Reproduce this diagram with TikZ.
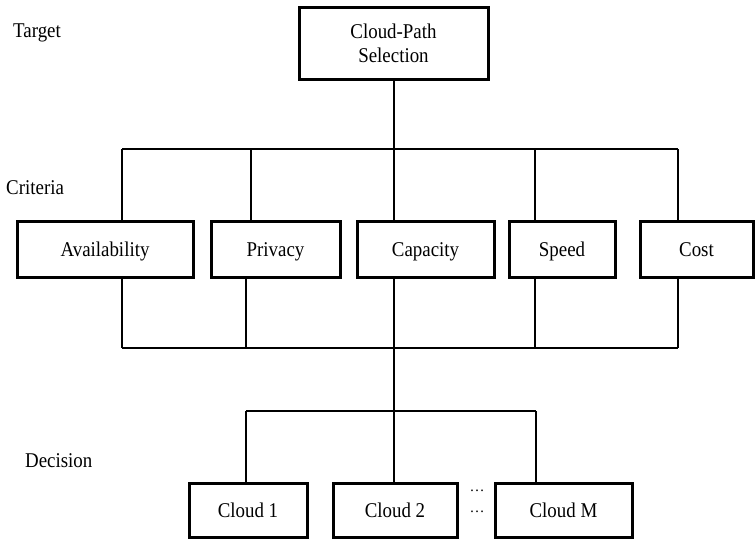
\documentclass[tikz,border=0pt]{standalone}
\usepackage{fontspec}
\usepackage{graphicx}
\setmainfont{Liberation Serif}
\newcommand{\nrw}[1]{\scalebox{0.9}[1]{#1}}
\begin{document}
\begin{tikzpicture}[x=1pt,y=-1pt,
  box/.style={draw=black, line width=3pt, rectangle, align=center, inner sep=0pt,
    font=\fontsize{21}{24}\selectfont},
  sbox/.style={box, text height=14pt, text depth=0pt},
  conn/.style={draw=black, line width=1.2pt},
  lab/.style={anchor=west, inner sep=0pt, font=\fontsize{21}{24}\selectfont},
  dots/.style={inner sep=0pt, font=\fontsize{15}{18}\selectfont}]
\useasboundingbox (0,0) rectangle (755,541);
% nodes
\node[box, minimum width=189pt, minimum height=72pt] (top) at (393.5,43) {\nrw{Cloud-Path}\\\nrw{Selection}};
\node[sbox, minimum width=176pt, minimum height=56pt] (avail) at (105,249) {\nrw{Availability}};
\node[sbox, minimum width=129pt, minimum height=56pt] (priv) at (275.5,249) {\nrw{Privacy}};
\node[sbox, minimum width=137pt, minimum height=56pt] (capa) at (425.5,249) {\nrw{Capacity}};
\node[sbox, minimum width=106pt, minimum height=56pt] (speed) at (562,249) {\nrw{Speed}};
\node[sbox, minimum width=113pt, minimum height=56pt] (cost) at (696.5,249) {\nrw{Cost}};
\node[sbox, minimum width=118pt, minimum height=54pt] (c1) at (248,510) {\nrw{Cloud 1}};
\node[sbox, minimum width=124pt, minimum height=54pt] (c2) at (395,510) {\nrw{Cloud 2}};
\node[sbox, minimum width=137pt, minimum height=54pt] (cM) at (563.5,510) {\nrw{Cloud M}};
\node[dots] (d1) at (477,491) {…};
\node[dots] (d2) at (477,512) {…};
% labels
\node[lab] (lt) at (13,33) {\nrw{Target}};
\node[lab] (lc) at (6,188) {\nrw{Criteria}};
\node[lab] (ld) at (25,461) {\nrw{Decision}};
% coordinates
\coordinate (t1) at (122,149);
\coordinate (t2) at (251,149);
\coordinate (t3) at (394,149);
\coordinate (t4) at (535,149);
\coordinate (t5) at (678,149);
\coordinate (b1) at (122,348);
\coordinate (b2) at (246,348);
\coordinate (b3) at (394,348);
\coordinate (b4) at (535,348);
\coordinate (b5) at (678,348);
\coordinate (h1) at (246,411);
\coordinate (h2) at (394,411);
\coordinate (h3) at (536,411);
% connectors
\draw[conn] (top.south -| t3) -- (t3);
\draw[conn] (t1) -- (t5);
\draw[conn] (t1) -- (t1 |- avail.north);
\draw[conn] (t2) -- (t2 |- priv.north);
\draw[conn] (t3) -- (t3 |- capa.north);
\draw[conn] (t4) -- (t4 |- speed.north);
\draw[conn] (t5) -- (t5 |- cost.north);
\draw[conn] (b1 |- avail.south) -- (b1);
\draw[conn] (b2 |- priv.south) -- (b2);
\draw[conn] (b3 |- capa.south) -- (b3);
\draw[conn] (b4 |- speed.south) -- (b4);
\draw[conn] (b5 |- cost.south) -- (b5);
\draw[conn] (b1) -- (b5);
\draw[conn] (b3) -- (h2);
\draw[conn] (h1) -- (h3);
\draw[conn] (h1) -- (h1 |- c1.north);
\draw[conn] (h2) -- (h2 |- c2.north);
\draw[conn] (h3) -- (h3 |- cM.north);
\end{tikzpicture}
\end{document}
